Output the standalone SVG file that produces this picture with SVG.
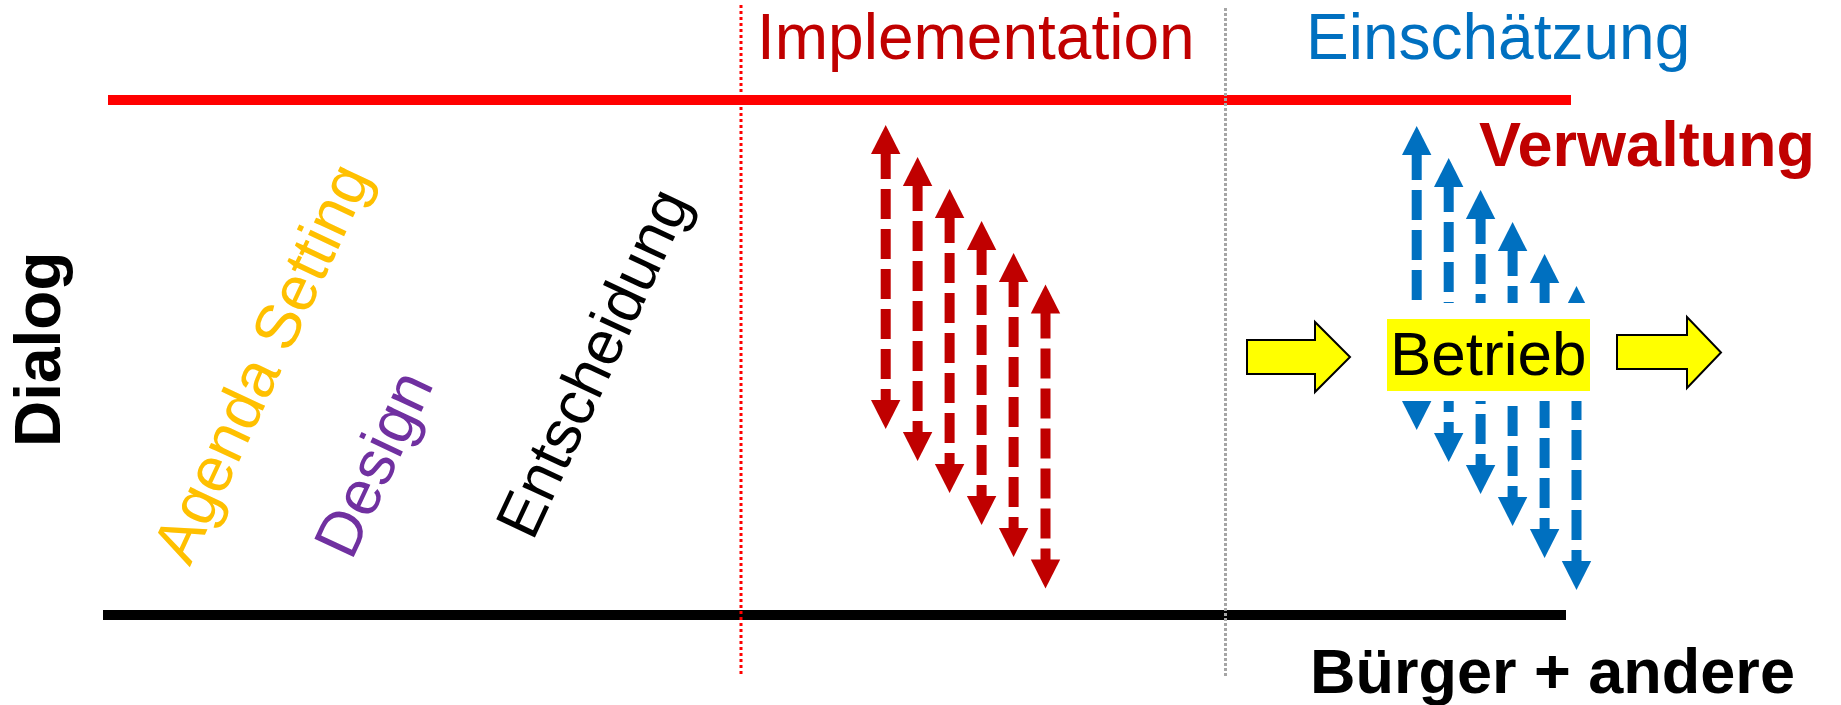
<svg xmlns="http://www.w3.org/2000/svg" xmlns:xlink="http://www.w3.org/1999/xlink" width="1841" height="705" viewBox="0 0 1841 705">
  <style>
    .lbl { font-family: "Liberation Sans", Arial, sans-serif; }
    .bold { font-weight: bold; }
    .red { fill: #C00000; }
    .blue { fill: #0070C0; }
    .yarrow { fill: #FFFF00; stroke: #000000; stroke-width: 2; stroke-linejoin: miter; }
  </style>
  <defs>
    <g id="dbl">
      <line x1="0" y1="24" x2="0" y2="280" stroke="currentColor" stroke-width="10" stroke-dasharray="30 10"/>
      <polygon points="0,0 14.7,29 -14.7,29" fill="currentColor"/>
      <polygon points="0,304 14.7,275 -14.7,275" fill="currentColor"/>
    </g>
  </defs>
  <rect width="1841" height="705" fill="#FFFFFF"/>

  <g id="frame">
    <rect x="108" y="95" width="1463" height="10" fill="#FF0000"/>
    <rect x="103" y="610" width="1463" height="10" fill="#000000"/>
    <line x1="741" y1="5" x2="741" y2="674" stroke="#FF0000" stroke-width="3" stroke-dasharray="3 3"/>
    <line x1="1225.5" y1="8" x2="1225.5" y2="677" stroke="#A6A6A6" stroke-width="3" stroke-dasharray="3 2"/>
  </g>

  <g id="connectors">
    <g id="red-arrows" color="#C00000">
      <use xlink:href="#dbl" transform="translate(885.7,125)"/>
      <use xlink:href="#dbl" transform="translate(917.6,157)"/>
      <use xlink:href="#dbl" transform="translate(949.6,189)"/>
      <use xlink:href="#dbl" transform="translate(981.6,221)"/>
      <use xlink:href="#dbl" transform="translate(1013.6,253)"/>
      <use xlink:href="#dbl" transform="translate(1045.5,284.5)"/>
    </g>
    <g id="blue-arrows" color="#0070C0">
      <use xlink:href="#dbl" transform="translate(1416.7,126)"/>
      <use xlink:href="#dbl" transform="translate(1448.7,158)"/>
      <use xlink:href="#dbl" transform="translate(1480.6,190)"/>
      <use xlink:href="#dbl" transform="translate(1512.6,222)"/>
      <use xlink:href="#dbl" transform="translate(1544.6,254)"/>
      <use xlink:href="#dbl" transform="translate(1576.5,286)"/>
    </g>
    <polygon id="arrow-in" class="yarrow" points="1247,340 1315,340 1315,322 1350,357 1315,392 1315,374 1247,374"/>
    <polygon id="arrow-out" class="yarrow" points="1617,335 1687,335 1687,317 1721,352.5 1687,388 1687,369 1617,369"/>
  </g>

  <g id="node-betrieb">
    <rect x="1380" y="303" width="220" height="98" fill="#FFFFFF"/>
    <rect x="1387" y="319" width="203" height="72" fill="#FFFF00"/>
    <text class="lbl" x="1390" y="374.5" font-size="62" fill="#000000">Betrieb</text>
  </g>

  <g id="node-implementation">
    <text class="lbl red" x="757" y="59" font-size="64">Implementation</text>
  </g>
  <g id="node-einschaetzung">
    <text class="lbl blue" x="1306" y="59" font-size="64">Einschätzung</text>
  </g>
  <g id="node-verwaltung">
    <text class="lbl bold red" x="1479" y="166" font-size="63">Verwaltung</text>
  </g>
  <g id="node-buerger">
    <text class="lbl bold" x="1310" y="693" font-size="63" fill="#000000">Bürger + andere</text>
  </g>
  <g id="node-dialog">
    <text class="lbl bold" transform="translate(60,447) rotate(-90)" font-size="64" fill="#000000">Dialog</text>
  </g>
  <g id="node-agenda">
    <text class="lbl" transform="translate(280.9,371.9) rotate(-65)" text-anchor="middle" font-size="63" fill="#FFC000">Agenda Setting</text>
  </g>
  <g id="node-design">
    <text class="lbl" transform="translate(392.9,472.9) rotate(-65)" text-anchor="middle" font-size="63" fill="#7030A0">Design</text>
  </g>
  <g id="node-entscheidung">
    <text class="lbl" transform="translate(612.1,371.8) rotate(-65)" text-anchor="middle" font-size="62" fill="#000000">Entscheidung</text>
  </g>
</svg>
